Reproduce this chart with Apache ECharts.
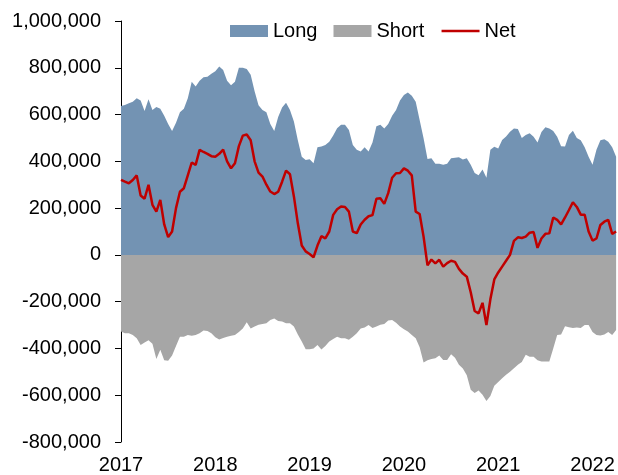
<!DOCTYPE html>
<html>
<head>
<meta charset="utf-8">
<script src="https://cdn.jsdelivr.net/npm/echarts@6/dist/echarts.min.js"></script>
<style>
  html, body { margin: 0; padding: 0; background: #fff; }
  #chart { width: 618px; height: 475px; }
</style>
</head>
<body>
<div id="chart"></div>
<script>
// half-monthly readings from Jan 2017, values in thousands of contracts
const startYear = 2017;
const stepYear = 1 / 24;
const yearTicks = [2017, 2018, 2019, 2020, 2021, 2022];

const longPos = [
  637, 641, 648, 655, 670, 660, 615, 665, 620, 632,
  625, 595, 560, 530, 565, 610, 625, 670, 740, 720,
  745, 760, 762, 775, 785, 805, 790, 745, 725, 740,
  800, 800, 795, 770, 700, 640, 620, 610, 560, 530,
  590, 630, 650, 620, 570, 490, 420, 406, 409, 392,
  460, 463, 470, 484, 510, 541, 556, 556, 534, 470,
  449, 442, 460, 442, 480, 550, 556, 540, 560, 595,
  620, 660, 684, 694, 680, 655, 577, 499, 410, 413,
  390, 390, 385, 390, 413, 415, 417, 408, 413, 385,
  350, 340, 365, 330, 449, 462, 455, 491, 506, 527,
  540, 538, 500, 513, 520, 505, 480, 525, 546, 540,
  530, 505, 465, 463, 513, 531, 500, 490, 460, 420,
  385, 450, 490, 494, 484, 460, 420
];

const shortPos = [
  -328, -335, -335, -342, -356, -385, -375, -365, -380, -445,
  -406, -450, -453, -430, -390, -350, -350, -342, -346, -342,
  -335, -323, -325, -335, -352, -362, -355, -350, -346, -342,
  -330, -315, -288, -315, -306, -299, -295, -292, -278, -272,
  -283, -285, -292, -292, -306, -340, -370, -403, -403, -400,
  -385, -405, -390, -370, -360, -350, -356, -356, -363, -350,
  -335, -315, -310, -300, -313, -306, -299, -295, -280, -278,
  -290, -306, -318, -328, -342, -356, -395, -460, -450, -445,
  -442, -430, -449, -449, -425, -440, -470, -486, -515, -577,
  -590, -580, -598, -625, -603, -560, -543, -527, -513, -500,
  -485, -470, -458, -427, -435, -435, -450, -456, -456, -456,
  -400, -342, -340, -305, -309, -313, -310, -313, -300, -300,
  -330, -342, -345, -340, -330, -342, -321
];

const netPos = [
  321, 313, 306, 320, 340, 254, 240, 300, 214, 185,
  235, 130, 76, 100, 200, 270, 285, 340, 395, 385,
  449, 440, 432, 422, 420, 432, 450, 400, 370, 392,
  465, 510, 515, 490, 400, 352, 335, 300, 271, 260,
  270, 313, 360, 345, 250, 135, 40, 15, 4, -10,
  40, 80, 71, 100, 171, 195, 207, 205, 185, 100,
  93, 130, 150, 165, 170, 240, 242, 218, 264, 330,
  349, 350, 370, 360, 340, 185, 175, 78, -45, -20,
  -36, -21, -50, -35, -25, -30, -60, -80, -93, -160,
  -240, -250, -205, -300, -190, -105, -75, -50, -25, 0,
  60, 75, 72, 78, 95, 98, 30, 70, 90, 92,
  160, 150, 130, 160, 192, 225, 205, 172, 172, 100,
  61, 70, 128, 142, 150, 90, 100
];

const toPairs = arr => arr.map((v, i) => [startYear + i * stepYear, v * 1000]);

const font = "'Liberation Sans', Arial, sans-serif";
const chart = echarts.init(document.getElementById('chart'));

chart.setOption({
  animation: false,
  backgroundColor: '#fff',
  textStyle: { fontFamily: font },
  grid: { left: 121, right: 0, top: 21, bottom: 32 },
  legend: {
    left: 230,
    top: 21,
    padding: 0,
    itemWidth: 38,
    itemHeight: 12,
    itemGap: 16,
    textStyle: { fontSize: 20, color: '#000', fontFamily: font },
    data: [
      { name: 'Long', icon: 'rect' },
      { name: 'Short', icon: 'rect' },
      { name: 'Net', icon: 'line', itemStyle: { borderColor: '#C00000', borderWidth: 2.5 } }
    ]
  },
  xAxis: {
    type: 'value',
    min: yearTicks[0],
    max: 2022.27,
    interval: 1,
    axisLine: { show: false },
    axisTick: { show: false },
    splitLine: { show: false },
    axisLabel: {
      fontSize: 20,
      color: '#000',
      fontFamily: font,
      margin: 13,
      showMaxLabel: false,
      formatter: v => String(Math.round(v))
    }
  },
  yAxis: {
    type: 'value',
    min: -800000,
    max: 1000000,
    interval: 200000,
    axisLine: { show: true, lineStyle: { color: '#000', width: 1 } },
    axisTick: { show: true, length: 6, lineStyle: { color: '#000' } },
    splitLine: { show: false },
    axisLabel: {
      fontSize: 20,
      color: '#000',
      fontFamily: font,
      margin: 20,
      formatter: v => v.toLocaleString('en-US')
    }
  },
  series: [
    {
      name: 'Long',
      type: 'line',
      data: toPairs(longPos),
      symbol: 'none',
      lineStyle: { width: 0 },
      itemStyle: { color: '#7393B3' },
      areaStyle: { color: '#7393B3', opacity: 1 }
    },
    {
      name: 'Short',
      type: 'line',
      data: toPairs(shortPos),
      symbol: 'none',
      lineStyle: { width: 0 },
      itemStyle: { color: '#A6A6A6' },
      areaStyle: { color: '#A6A6A6', opacity: 1 }
    },
    {
      name: 'Net',
      type: 'line',
      data: toPairs(netPos),
      symbol: 'none',
      itemStyle: { color: '#C00000' },
      lineStyle: { color: '#C00000', width: 2.5 }
    }
  ]
});
</script>
</body>
</html>
